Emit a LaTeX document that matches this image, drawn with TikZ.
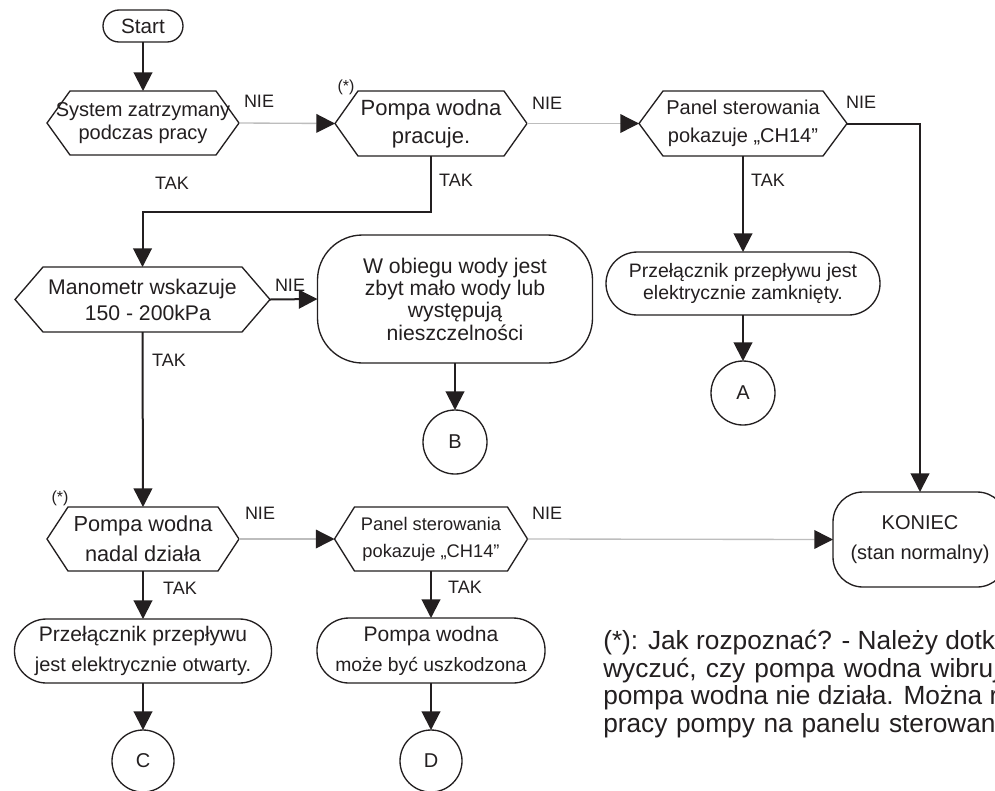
\documentclass[tikz,border=0pt]{standalone}
\usepackage{fontspec}
\setmainfont{Liberation Sans}
\usetikzlibrary{arrows.meta}
\definecolor{ink}{HTML}{231F20}
\definecolor{grayline}{HTML}{BDBDBD}
\begin{document}
\begin{tikzpicture}[x=0.75pt,y=-0.75pt,
 hexbox/.style={inner sep=0pt, outer sep=0pt, align=center, text=ink},
 roundbox/.style={draw=ink, line width=1pt, rounded corners=#1, inner sep=0pt, outer sep=0pt, align=center, text=ink},
 circ/.style={draw=ink, line width=1pt, circle, minimum size=#1, inner sep=0pt, outer sep=0pt, text=ink, font=\fontsize{15}{18}\selectfont},
 flow/.style={draw=ink, line width=1.5pt, -{Triangle[length=14pt,width=14pt]}},
 flowthin/.style={draw=grayline, line width=1pt, -{Triangle[length=14pt,width=14pt,color=ink]}},
 lbl/.style={text=ink, font=\fontsize{13.5}{15}\selectfont, inner sep=0pt},
 star/.style={text=ink, font=\fontsize{12}{14}\selectfont, inner sep=0pt},
 note/.style={text=ink, font=\fontsize{19.7}{21}\selectfont, inner sep=0pt, anchor=base west},
 hexline/.style={draw=ink, line width=1pt, line join=miter}
]
\useasboundingbox (0,0) rectangle (995,790);
\fill[white] (0,0) rectangle (995,790);
\clip (0,0) rectangle (995,790);

% ---- nodes ----
\node[roundbox=12pt, minimum width=60pt, minimum height=24pt, font=\fontsize{15.5}{18}\selectfont] (start) at (143,26) {Start};

\node[hexbox, minimum width=144pt, minimum height=48pt, font=\fontsize{15}{17.5}\selectfont] (h1) at (143,123) {System zatrzymany\\podczas pracy};
\node[hexbox, minimum width=144pt, minimum height=48.75pt, font=\fontsize{16.5}{21}\selectfont] (h2) at (431,123.5) {Pompa wodna\\pracuje.};
\node[hexbox, minimum width=156pt, minimum height=48.75pt, font=\fontsize{15}{21}\selectfont] (h6) at (743,123.5) {Panel sterowania\\pokazuje „CH14”};
\node[hexbox, minimum width=191.25pt, minimum height=48.75pt, font=\fontsize{15.9}{19.5}\selectfont] (h3) at (142.5,299.5) {Manometr wskazuje\\\hspace*{8pt}150 - 200kPa};
\node[hexbox, minimum width=144pt, minimum height=48pt, font=\fontsize{16.3}{22.5}\selectfont] (h4) at (143,539) {Pompa wodna\\nadal działa};
\node[hexbox, minimum width=144.75pt, minimum height=48pt, font=\fontsize{13.7}{20}\selectfont] (h5) at (431,539) {Panel sterowania\\pokazuje „CH14”};

\node[roundbox=33.75pt, minimum width=206.25pt, minimum height=96pt, font=\fontsize{15.9}{16.75}\selectfont] (big) at (455,299) {W obiegu wody jest\\zbyt mało wody lub\\występują\\nieszczelności};
\node[roundbox=23.6pt, minimum width=205.5pt, minimum height=47.25pt, font=\fontsize{14.6}{16.5}\selectfont] (rA) at (743,283.5) {Przełącznik przepływu jest\\elektrycznie zamknięty.};
\node[roundbox=24pt, minimum width=192.75pt, minimum height=48pt, font=\fontsize{15}{22.5}\selectfont] (rC) at (143,651) {{\fontsize{15.8}{22.5}\selectfont Przełącznik przepływu}\\jest elektrycznie otwarty.};
\node[roundbox=24pt, minimum width=171pt, minimum height=48.75pt, font=\fontsize{14.5}{22.5}\selectfont] (rD) at (431,650.5) {{\fontsize{15.8}{22.5}\selectfont Pompa wodna}\\może być uszkodzona};
\node[roundbox=22.5pt, minimum width=130.5pt, minimum height=71.25pt, font=\fontsize{15}{23}\selectfont] (koniec) at (920,539.5) {KONIEC\\(stan normalny)};

\node[circ=48pt] (B) at (455,442) {B};
\node[circ=48pt] (A) at (743,393) {A};
\node[circ=46.5pt] (C) at (143,761) {C};
\node[circ=46.5pt] (D) at (431,761) {D};

% ---- hexagon outlines ----
\foreach \n/\d in {h1/17.25pt, h2/17.25pt, h6/18pt, h3/21pt, h4/15.75pt, h5/15pt}
  \draw[hexline] (\n.west) -- ([xshift=\d]\n.north west) -- ([xshift=-\d]\n.north east) -- (\n.east) -- ([xshift=-\d]\n.south east) -- ([xshift=\d]\n.south west) -- cycle;

% ---- connectors ----
\coordinate (t1) at (431,212);
\draw[flow] (start) -- (h1);
\draw[flowthin] (h1.east) -- (h2.west);
\draw[flowthin] (h2.east) -- (h6.west);
\draw[draw=ink, line width=1.5pt, -{Triangle[length=14pt,width=14pt]}] (h6.east) -| (koniec.north);
\draw[flow] (h6.south) -- (rA.north);
\draw[flow] (rA.south) -- (A.north);
\draw[flow] (h2.south) -- (t1) -| (h3.north);
\draw[flow] (h3.east) -- (big.west);
\draw[flow] (big.south) -- (B.north);
\draw[flow] (h3.south) -- (h4.north);
\draw[flowthin] (h4.east) -- (h5.west);
\draw[flowthin] (h5.east) -- (koniec.west);
\draw[flow] (h4.south) -- (rC.north);
\draw[flow] (rC.south) -- (C.north);
\draw[flow] (h5.south) -- (rD.north);
\draw[flow] (rD.south) -- (D.north);

% ---- labels ----
\node[lbl] (n1) at (259,101) {NIE};
\node[lbl] (k1) at (172,183) {TAK};
\node[star] (s1) at (346,87) {(*)};
\node[lbl] (n2) at (547,103) {NIE};
\node[lbl] (k2) at (456,180) {TAK};
\node[lbl] (n6) at (861,102) {NIE};
\node[lbl] (k6) at (768,180) {TAK};
\node[lbl] (n3) at (290,285) {NIE};
\node[lbl] (k3) at (169,360) {TAK};
\node[star] (s2) at (60,498) {(*)};
\node[lbl] (n4) at (260,513) {NIE};
\node[lbl] (k4) at (180,588) {TAK};
\node[lbl] (n5) at (547,513) {NIE};
\node[lbl] (k5) at (465,587) {TAK};

% ---- footnote (cut at the right edge, as in the reference) ----
\node[note] (f1) at (603,649) {(*): Jak rozpoznać? - Należy dotknąć};
\node[note] (f2) at (603,677) {\spaceskip=6.9pt wyczuć, czy pompa wodna wibruje.};
\node[note] (f3) at (603,704) {pompa wodna nie działa. Można również};
\node[note] (f4) at (603,732) {\spaceskip=6.5pt pracy pompy na panelu sterowania.};
\end{tikzpicture}
\end{document}
